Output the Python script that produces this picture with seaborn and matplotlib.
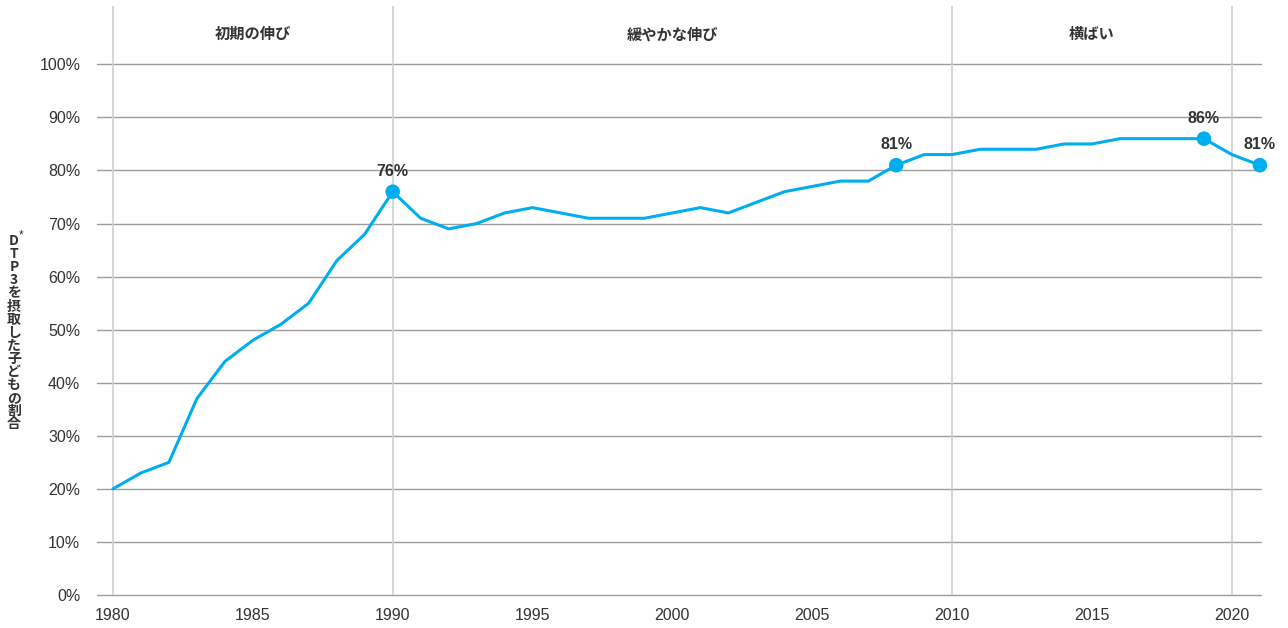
import matplotlib
matplotlib.use("Agg")
import matplotlib.pyplot as plt
import seaborn as sns
import pandas as pd

years = list(range(1980, 2022))
coverage = [20, 23, 25, 37, 44, 48, 51, 55, 63, 68,
            76, 71, 69, 70, 72, 73, 72, 71, 71, 71,
            72, 73, 72, 74, 76, 77, 78, 78, 81, 83,
            83, 84, 84, 84, 85, 85, 86, 86, 86, 86,
            83, 81]
highlight_years = [1990, 2008, 2019, 2021]
phase_labels = ["初期の伸び", "緩やかな伸び", "横ばい"]
phase_centers = [1985, 2000, 2015]
phase_bounds = [1980, 1990, 2010, 2020]
xtick_years = [1980, 1985, 1990, 1995, 2000, 2005, 2010, 2015, 2020]
ytick_values = list(range(0, 101, 10))
ylabel_chars = ["D", "T", "P", "3", "を", "摂", "取", "し", "た", "子", "ど", "も", "の", "割", "合"]

df = pd.DataFrame({"year": years, "coverage": coverage})
hl = df[df["year"].isin(highlight_years)]

sns.set_theme(style="white")
FAM = ["Liberation Sans", "Noto Sans CJK JP", "DejaVu Sans"]
plt.rcParams["font.family"] = FAM

BLUE = "#00AEEF"
TEXT = "#333333"

fig = plt.figure(figsize=(12.88, 6.28), dpi=100)
ax = fig.add_axes([97 / 1288, 1 - 595 / 628, (1261 - 97) / 1288, (595 - 6) / 628])

ax.set_xlim(1979.43, 2021.04)
ax.set_ylim(0, 111)

for v in ytick_values:
    ax.axhline(v, color="#9e9e9e", lw=1.0, zorder=1, clip_on=False)
for b in phase_bounds:
    ax.axvline(b, color="#cfcfcf", lw=1.2, zorder=1)

sns.lineplot(data=df, x="year", y="coverage", ax=ax, color=BLUE, lw=2.2, zorder=3)
sns.scatterplot(data=hl, x="year", y="coverage", ax=ax, color=BLUE, s=110,
                edgecolor="none", zorder=4, clip_on=False)

for _, r in hl.iterrows():
    ax.text(r["year"], r["coverage"] + 2.4, f"{int(r['coverage'])}%", ha="center",
            va="bottom", fontsize=11.5, fontweight="bold", color=TEXT, zorder=5)

for lab, c in zip(phase_labels, phase_centers):
    ax.text(c, 105.7, lab, ha="center", va="center", fontsize=11,
            fontweight="bold", color=TEXT, family=["Noto Sans CJK JP", "DejaVu Sans"])

for s in ax.spines.values():
    s.set_visible(False)

ax.set_xticks(xtick_years)
ax.set_xticklabels([str(y) for y in xtick_years], fontsize=11.5, color=TEXT)
ax.set_yticks(ytick_values)
ax.set_yticklabels([f"{v}%" for v in ytick_values], fontsize=11.5, color=TEXT)
ax.tick_params(axis="both", length=0)
ax.tick_params(axis="y", pad=12)
ax.tick_params(axis="x", pad=9)
ax.set_xlabel("")
ax.set_ylabel("")

# vertical stacked y-label
top_y = 1 - 241 / 628
step = 13.1 / 628
for i, ch in enumerate(ylabel_chars):
    fig.text(14 / 1288, top_y - i * step, ch, ha="center", va="center",
             fontsize=10, fontweight="bold", color=TEXT,
             family=["Noto Sans CJK JP", "DejaVu Sans"])
fig.text(21.5 / 1288, 1 - 235 / 628, "*", ha="center", va="center",
         fontsize=8.5, color=TEXT)

fig.savefig("out.png", dpi=100, facecolor="white")
